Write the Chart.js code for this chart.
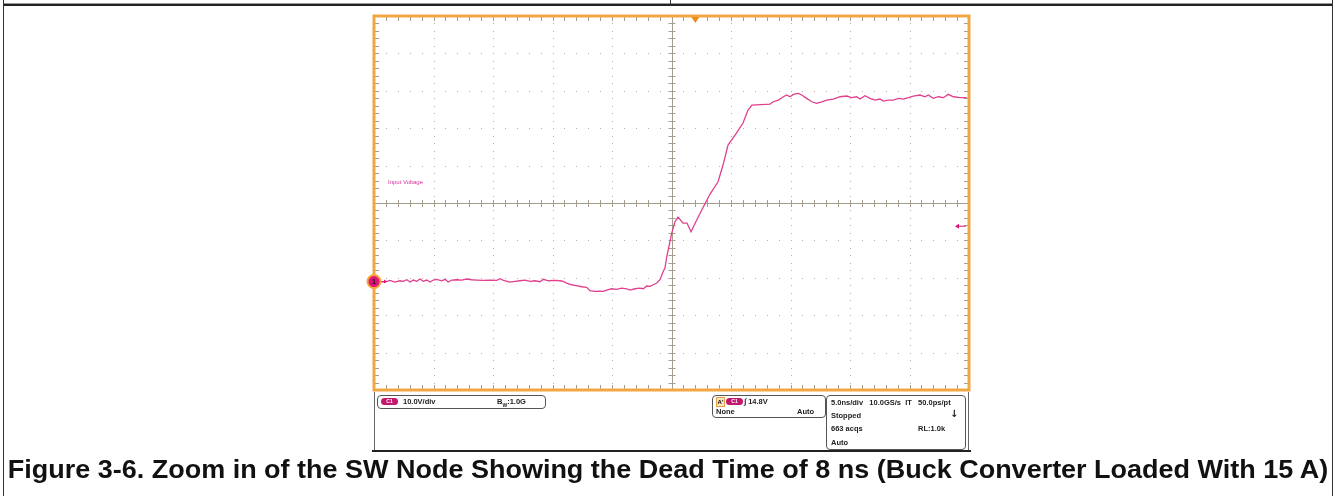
<!DOCTYPE html>
<html>
<head>
<meta charset="utf-8">
<script src="https://cdn.jsdelivr.net/npm/chart.js@4/dist/chart.umd.min.js"></script>
<style>
  body { margin: 0; background: #fff; font-family: "Liberation Sans", Arial, sans-serif; }
  #pagina { position: relative; width: 1335px; height: 496px; overflow: hidden; }
  #grafico { position: absolute; left: 0; top: 0; }
  .linha { position: absolute; background: #333; }
  .abs { position: absolute; white-space: nowrap; }
  .caixa { position: absolute; border: 1px solid #555; border-radius: 4px; box-sizing: border-box; }
  .txt { position: absolute; white-space: nowrap; font-size: 7.5px; font-weight: bold; color: #222; line-height: 9px; }
  .pilula { position: absolute; width: 17px; height: 7px; border-radius: 4px; background: #c3166d;
            color: #fff; font-size: 5px; line-height: 7px; text-align: center; font-weight: bold; }
  #legenda { position: absolute; top: 454px; left: 668px; font-size: 26px; font-weight: bold; color: #111;
             white-space: nowrap; line-height: 30px; transform-origin: center; }
</style>
</head>
<body>
<div id="pagina">
  <canvas id="grafico" width="1335" height="496"></canvas>

  <!-- moldura da figura -->
  <div class="linha" style="left:3px; top:3px; width:1330px; height:1px; background:#9a9a9a"></div>
  <div class="linha" style="left:3px; top:4px; width:1330px; height:2px; background:#222"></div>
  <div class="linha" style="left:3px; top:0; width:1px; height:496px"></div>
  <div class="linha" style="left:1332px; top:0; width:1px; height:496px"></div>
  <div class="linha" style="left:670px; top:0; width:1px; height:5px"></div>

  <div class="abs" style="left:388px; top:179px; font-size:6px; color:#d2329a">Input Voltage</div>

  <!-- painel de leitura do osciloscopio -->
  <div class="linha" style="left:374px; top:392px; width:1px; height:59px; background:#666"></div>
  <div class="linha" style="left:968px; top:392px; width:1px; height:59px; background:#666"></div>
  <div class="linha" style="left:372px; top:450px; width:599px; height:2px; background:#222"></div>

  <div class="caixa" style="left:377px; top:395px; width:169px; height:14px"></div>
  <div class="pilula" style="left:381px; top:398px">C1</div>
  <div class="txt" style="left:403px; top:397px">10.0V/div</div>
  <div class="txt" style="left:497px; top:397px">B<sub style="font-size:5px">W</sub>:1.0G</div>

  <div class="caixa" style="left:712px; top:395px; width:114px; height:23px"></div>
  <div class="abs" style="left:716px; top:397px; width:7px; height:8px; border:1px solid #e8a040; background:#f6e6c8; font-size:6px; font-weight:bold; line-height:8px; text-align:center">A'</div>
  <div class="pilula" style="left:726px; top:398px">C1</div>
  <div class="txt" style="left:744px; top:397px">&#8747; 14.8V</div>
  <div class="txt" style="left:716px; top:407px">None</div>
  <div class="txt" style="left:797px; top:407px">Auto</div>

  <div class="caixa" style="left:826px; top:395px; width:140px; height:55px"></div>
  <div class="txt" style="left:831px; top:398px">5.0ns/div&nbsp;&nbsp; 10.0GS/s&nbsp; IT&nbsp;&nbsp; 50.0ps/pt</div>
  <div class="txt" style="left:831px; top:411px">Stopped</div>
  <div class="txt" style="left:950px; top:409px; font-size:10px; font-family:'DejaVu Sans'">&#8595;</div>
  <div class="txt" style="left:831px; top:424px">663 acqs</div>
  <div class="txt" style="left:918px; top:424px">RL:1.0k</div>
  <div class="txt" style="left:831px; top:438px">Auto</div>

  <div id="legenda">Figure 3-6. Zoom in of the SW Node Showing the Dead Time of 8 ns (Buck Converter Loaded With 15 A)</div>
</div>

<script>
const timeNs = [0, 0.50, 0.92, 1.34, 1.76, 2.18, 2.46, 2.75, 3.03, 3.30, 3.59, 3.87, 4.14, 4.43, 4.71, 4.98, 5.27,
  5.69, 5.97, 6.24, 6.53, 6.95, 7.37, 7.79, 8.21, 8.63, 9.18, 9.75, 10.31, 10.59, 10.87, 11.43, 11.85,
  12.27, 12.69, 13.11, 13.53, 13.95, 14.23, 14.65, 15.21, 15.63, 15.91, 16.19, 16.61, 16.89, 17.45, 17.87,
  18.15, 18.57, 18.99, 19.27, 19.55, 19.97, 20.39, 20.82, 21.24, 21.51, 21.93, 22.35, 22.63, 22.92, 23.19,
  23.47, 23.76, 24.03, 24.31, 24.45, 24.60, 25.02, 25.29, 25.55, 25.97, 26.30, 26.64, 27.12, 27.65, 28.24,
  28.91, 29.33, 29.75, 30.34, 31.01, 31.43, 31.76, 33.28, 33.55, 33.98, 34.40, 34.68, 34.96, 35.24, 35.66,
  35.94, 36.36, 36.78, 37.20, 37.62, 38.04, 38.60, 39.16, 39.72, 40.14, 40.56, 40.84, 41.26, 41.68, 42.10,
  42.52, 42.80, 43.22, 43.64, 44.06, 44.48, 44.90, 45.32, 45.88, 46.30, 46.58, 47.00, 47.42, 47.84, 48.26,
  48.68, 49.24, 49.81];
const voltageV = [0.13, 0.05, -0.13, 0.32, -0.13, 0.21, 0.05, 0.48, -0.13, 0.40, 0.05, 0.67, 0.05, 0.40, -0.13, 0.40, 0.59,
  0.21, 0.59, -0.13, 0.40, 0.48, 0.40, 0.67, 0.48, 0.40, 0.32, 0.40, 0.32, 0.75, 0.32, -0.13, 0.05,
  0.21, 0.40, 0.05, 0.21, -0.05, 0.59, 0.21, 0.32, 0.21, 0.05, -0.40, -0.86, -1.02, -1.39, -1.55,
  -2.46, -2.62, -2.54, -2.62, -2.27, -1.93, -2.09, -1.74, -1.93, -2.27, -1.93, -1.74, -1.93, -1.20, -1.28,
  -0.86, -0.40, 0.48, 2.73, 3.61, 6.63, 12.97, 15.99, 17.25, 15.64, 15.64, 13.32, 16.44, 19.79, 23.40,
  26.68, 31.15, 36.50, 39.17, 42.38, 45.86, 47.19, 47.46, 48.07, 48.53, 49.41, 49.87, 49.41, 50.05, 50.32,
  49.87, 48.98, 48.07, 47.65, 48.07, 48.53, 48.80, 49.41, 49.60, 49.16, 49.41, 48.80, 49.68, 48.98, 48.53,
  48.80, 48.26, 48.53, 48.53, 48.98, 48.80, 49.16, 49.60, 49.87, 49.41, 49.87, 48.98, 49.41, 49.16, 50.05,
  49.41, 49.16, 49.16];

// Divisoes da tela: 5 ns/div e 10 V/div
const xDivisionsNs = [0, 5, 10, 15, 20, 25, 30, 35, 40, 45, 50];
const yDivisionsV = [-29, -19, -9, 1, 11, 21, 31, 41, 51, 61, 71];
const triggerLevelV = 14.8;
const triggerTimeNs = 27;

// Plugin que desenha a graticula do osciloscopio
const graticulaScope = {
  id: 'graticulaScope',
  beforeDatasetsDraw(chart) {
    const { ctx, chartArea: a, scales: { x, y } } = chart;
    const xCentro = x.getPixelForValue(xDivisionsNs[5]);
    const yCentro = y.getPixelForValue(yDivisionsV[5]);
    ctx.save();
    ctx.fillStyle = '#b8b1a3';
    // linhas pontilhadas
    xDivisionsNs.slice(1, -1).forEach((v, i) => {
      if (i === 4) return;
      const px = Math.round(x.getPixelForValue(v));
      for (let t = y.min; t <= y.max; t += 2) {
        ctx.fillRect(px, Math.round(y.getPixelForValue(t)), 1, 1);
      }
    });
    yDivisionsV.slice(1, -1).forEach((v, i) => {
      if (i === 4) return;
      const py = Math.round(y.getPixelForValue(v));
      for (let t = x.min; t <= x.max; t += 1) {
        ctx.fillRect(Math.round(x.getPixelForValue(t)), py, 1, 1);
      }
    });
    // eixos centrais com marcas
    ctx.strokeStyle = '#a59d8d';
    ctx.lineWidth = 1;
    ctx.beginPath();
    ctx.moveTo(Math.round(xCentro) + 0.5, a.top);
    ctx.lineTo(Math.round(xCentro) + 0.5, a.bottom);
    ctx.moveTo(a.left, Math.round(yCentro) + 0.5);
    ctx.lineTo(a.right, Math.round(yCentro) + 0.5);
    for (let t = y.min; t <= y.max; t += 2) {
      const py = Math.round(y.getPixelForValue(t)) + 0.5;
      ctx.moveTo(xCentro - 3, py); ctx.lineTo(xCentro + 4, py);
      ctx.moveTo(a.left, py); ctx.lineTo(a.left + 5, py);
      ctx.moveTo(a.right - 5, py); ctx.lineTo(a.right, py);
    }
    for (let t = x.min; t <= x.max; t += 1) {
      const px = Math.round(x.getPixelForValue(t)) + 0.5;
      ctx.moveTo(px, yCentro - 3); ctx.lineTo(px, yCentro + 4);
      ctx.moveTo(px, a.top); ctx.lineTo(px, a.top + 5);
      ctx.moveTo(px, a.bottom - 5); ctx.lineTo(px, a.bottom);
    }
    ctx.stroke();
    ctx.restore();
  },
  afterDatasetsDraw(chart) {
    const { ctx, chartArea: a, scales: { x, y } } = chart;
    ctx.save();
    // borda laranja
    ctx.strokeStyle = '#f2a642';
    ctx.lineWidth = 3;
    ctx.strokeRect(a.left, a.top, a.right - a.left, a.bottom - a.top);
    // marcador de gatilho no tempo
    const tx = x.getPixelForValue(triggerTimeNs);
    ctx.fillStyle = '#f08a1c';
    ctx.beginPath();
    ctx.moveTo(tx - 4, a.top + 1); ctx.lineTo(tx + 4, a.top + 1); ctx.lineTo(tx, a.top + 7);
    ctx.closePath(); ctx.fill();
    // nivel de gatilho
    const ty = y.getPixelForValue(triggerLevelV);
    ctx.strokeStyle = '#e0147a'; ctx.fillStyle = '#e0147a'; ctx.lineWidth = 1;
    ctx.beginPath(); ctx.moveTo(a.right - 12, ty); ctx.lineTo(a.right - 3, ty); ctx.stroke();
    ctx.beginPath(); ctx.moveTo(a.right - 14, ty); ctx.lineTo(a.right - 10, ty - 2.5); ctx.lineTo(a.right - 10, ty + 2.5);
    ctx.closePath(); ctx.fill();
    // marcador de terra do canal 1
    const gy = y.getPixelForValue(0);
    ctx.beginPath(); ctx.moveTo(a.left + 7, gy); ctx.lineTo(a.left + 12, gy); ctx.stroke();
    ctx.beginPath(); ctx.moveTo(a.left + 13, gy); ctx.lineTo(a.left + 10, gy - 2); ctx.lineTo(a.left + 10, gy + 2);
    ctx.closePath(); ctx.fill();
    ctx.beginPath(); ctx.arc(a.left, gy, 6.5, 0, Math.PI * 2);
    ctx.fillStyle = '#e0147a'; ctx.fill();
    ctx.strokeStyle = '#f7a63c'; ctx.lineWidth = 2; ctx.stroke();
    ctx.fillStyle = '#222'; ctx.font = 'bold 8px "Liberation Sans"';
    ctx.textAlign = 'center'; ctx.textBaseline = 'middle';
    ctx.fillText('1', a.left, gy + 0.5);
    ctx.restore();
  }
};

function desenharGrafico() {
  const ctx = document.getElementById('grafico').getContext('2d');
  new Chart(ctx, {
    type: 'line',
    data: {
      datasets: [{
        label: 'Input Voltage',
        data: timeNs.map((t, i) => ({ x: t, y: voltageV[i] })),
        borderColor: '#e0408e',
        borderWidth: 1.3,
        pointRadius: 0,
        tension: 0
      }]
    },
    options: {
      responsive: false,
      animation: false,
      layout: { padding: { left: 374, top: 16, right: 366, bottom: 106 } },
      plugins: { legend: { display: false }, tooltip: { enabled: false } },
      scales: {
        x: {
          type: 'linear', min: 0, max: 50, display: false,
          afterBuildTicks: s => { s.ticks = xDivisionsNs.map(v => ({ value: v })); }
        },
        y: {
          type: 'linear', min: -29, max: 71, display: false,
          afterBuildTicks: s => { s.ticks = yDivisionsV.map(v => ({ value: v })); }
        }
      }
    },
    plugins: [graticulaScope]
  });
}

// Ajusta a largura da legenda para ocupar a linha toda
function ajustarLegenda() {
  const el = document.getElementById('legenda');
  const largura = el.offsetWidth;
  el.style.transform = `translateX(-50%) scaleX(${1320 / largura})`;
}

document.addEventListener('DOMContentLoaded', () => {
  desenharGrafico();
  ajustarLegenda();
});
</script>
</body>
</html>
